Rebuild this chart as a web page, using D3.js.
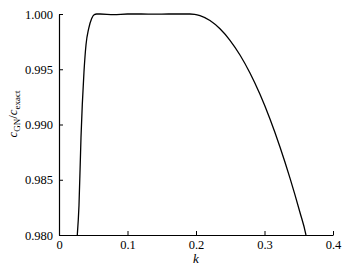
<!DOCTYPE html>
<html><head><meta charset="utf-8">
<script src="https://cdn.jsdelivr.net/npm/d3@7"></script>
<style>
html,body{margin:0;padding:0;background:#fff;}
svg text{font-family:"Liberation Serif","DejaVu Serif",serif;fill:#000;}
</style></head>
<body><svg id="c" width="348" height="269"></svg>
<script>
const kValues = [0.0267,0.0292,0.0321,0.0340,0.0365,0.0394,0.0434,0.0477,0.0515,0.055,0.06,0.08,0.10,0.12,0.14,0.16,0.18,0.1912,0.198,0.2058,0.2204,0.2350,0.2496,0.2642,0.2788,0.2934,0.3080,0.3226,0.3372,0.3518,0.3600,0.3620];
const ratioValues = [0.980,0.9827,0.9888,0.9918,0.9948,0.9972,0.9987,0.9996,0.99995,1.0,1.0,0.99995,1.0,1.0,0.99998,1.0,1.0,1.0,0.99997,0.99985,0.99941,0.99866,0.99762,0.99629,0.99466,0.99273,0.99050,0.98797,0.98515,0.98204,0.98015,0.97950];
const xTicks = [0,0.1,0.2,0.3,0.4];
const yTicks = [0.980,0.985,0.990,0.995,1.000];

const svg = d3.select("#c");
const m = {l:59, r:15, t:14, b:34};
const W = 348, H = 269;
const x = d3.scaleLinear().domain([0,0.4]).range([m.l, W-m.r]);
const y = d3.scaleLinear().domain([0.98,1.0]).range([H-m.b, m.t]);

svg.append("defs").append("clipPath").attr("id","clip")
  .append("rect").attr("x",m.l).attr("y",m.t-2).attr("width",W-m.r-m.l).attr("height",H-m.b-m.t+2);

const xa = svg.append("g").attr("transform",`translate(0,${H-m.b})`)
  .call(d3.axisBottom(x).tickValues(xTicks).tickSize(-4).tickSizeOuter(0).tickPadding(5).tickFormat(d=>d===0?"0":d3.format(".1f")(d)));
const ya = svg.append("g").attr("transform",`translate(${m.l},0)`)
  .call(d3.axisLeft(y).tickValues(yTicks).tickSize(-4).tickSizeOuter(0).tickPadding(6).tickFormat(d3.format(".3f")));
[xa,ya].forEach(g=>{
  g.selectAll("path.domain").attr("stroke","#000").attr("stroke-width",1.2);
  g.selectAll("line").attr("stroke","#000").attr("stroke-width",1);
  g.selectAll("text").attr("font-size",12.5).attr("font-family","Liberation Serif, serif").attr("fill","#000");
});

const line = d3.line().x((d,i)=>x(kValues[i])).y(d=>y(d)).curve(d3.curveMonotoneX);
svg.append("path").datum(ratioValues).attr("clip-path","url(#clip)")
  .attr("d",line).attr("fill","none").attr("stroke","#000").attr("stroke-width",1.3);

svg.append("text").attr("x",x(0.2)).attr("y",263).attr("text-anchor","middle")
  .attr("font-size",13).attr("font-style","italic").text("k");

const yl = svg.append("text").attr("transform","translate(17,114) rotate(-90)").attr("text-anchor","middle").attr("font-size",13);
yl.append("tspan").attr("font-style","italic").text("c");
yl.append("tspan").attr("font-size",9).attr("dy",3).text("GN");
yl.append("tspan").attr("dy",-3).text("/");
yl.append("tspan").attr("font-style","italic").text("c");
yl.append("tspan").attr("font-size",9).attr("dy",3).text("exact");
</script></body></html>
